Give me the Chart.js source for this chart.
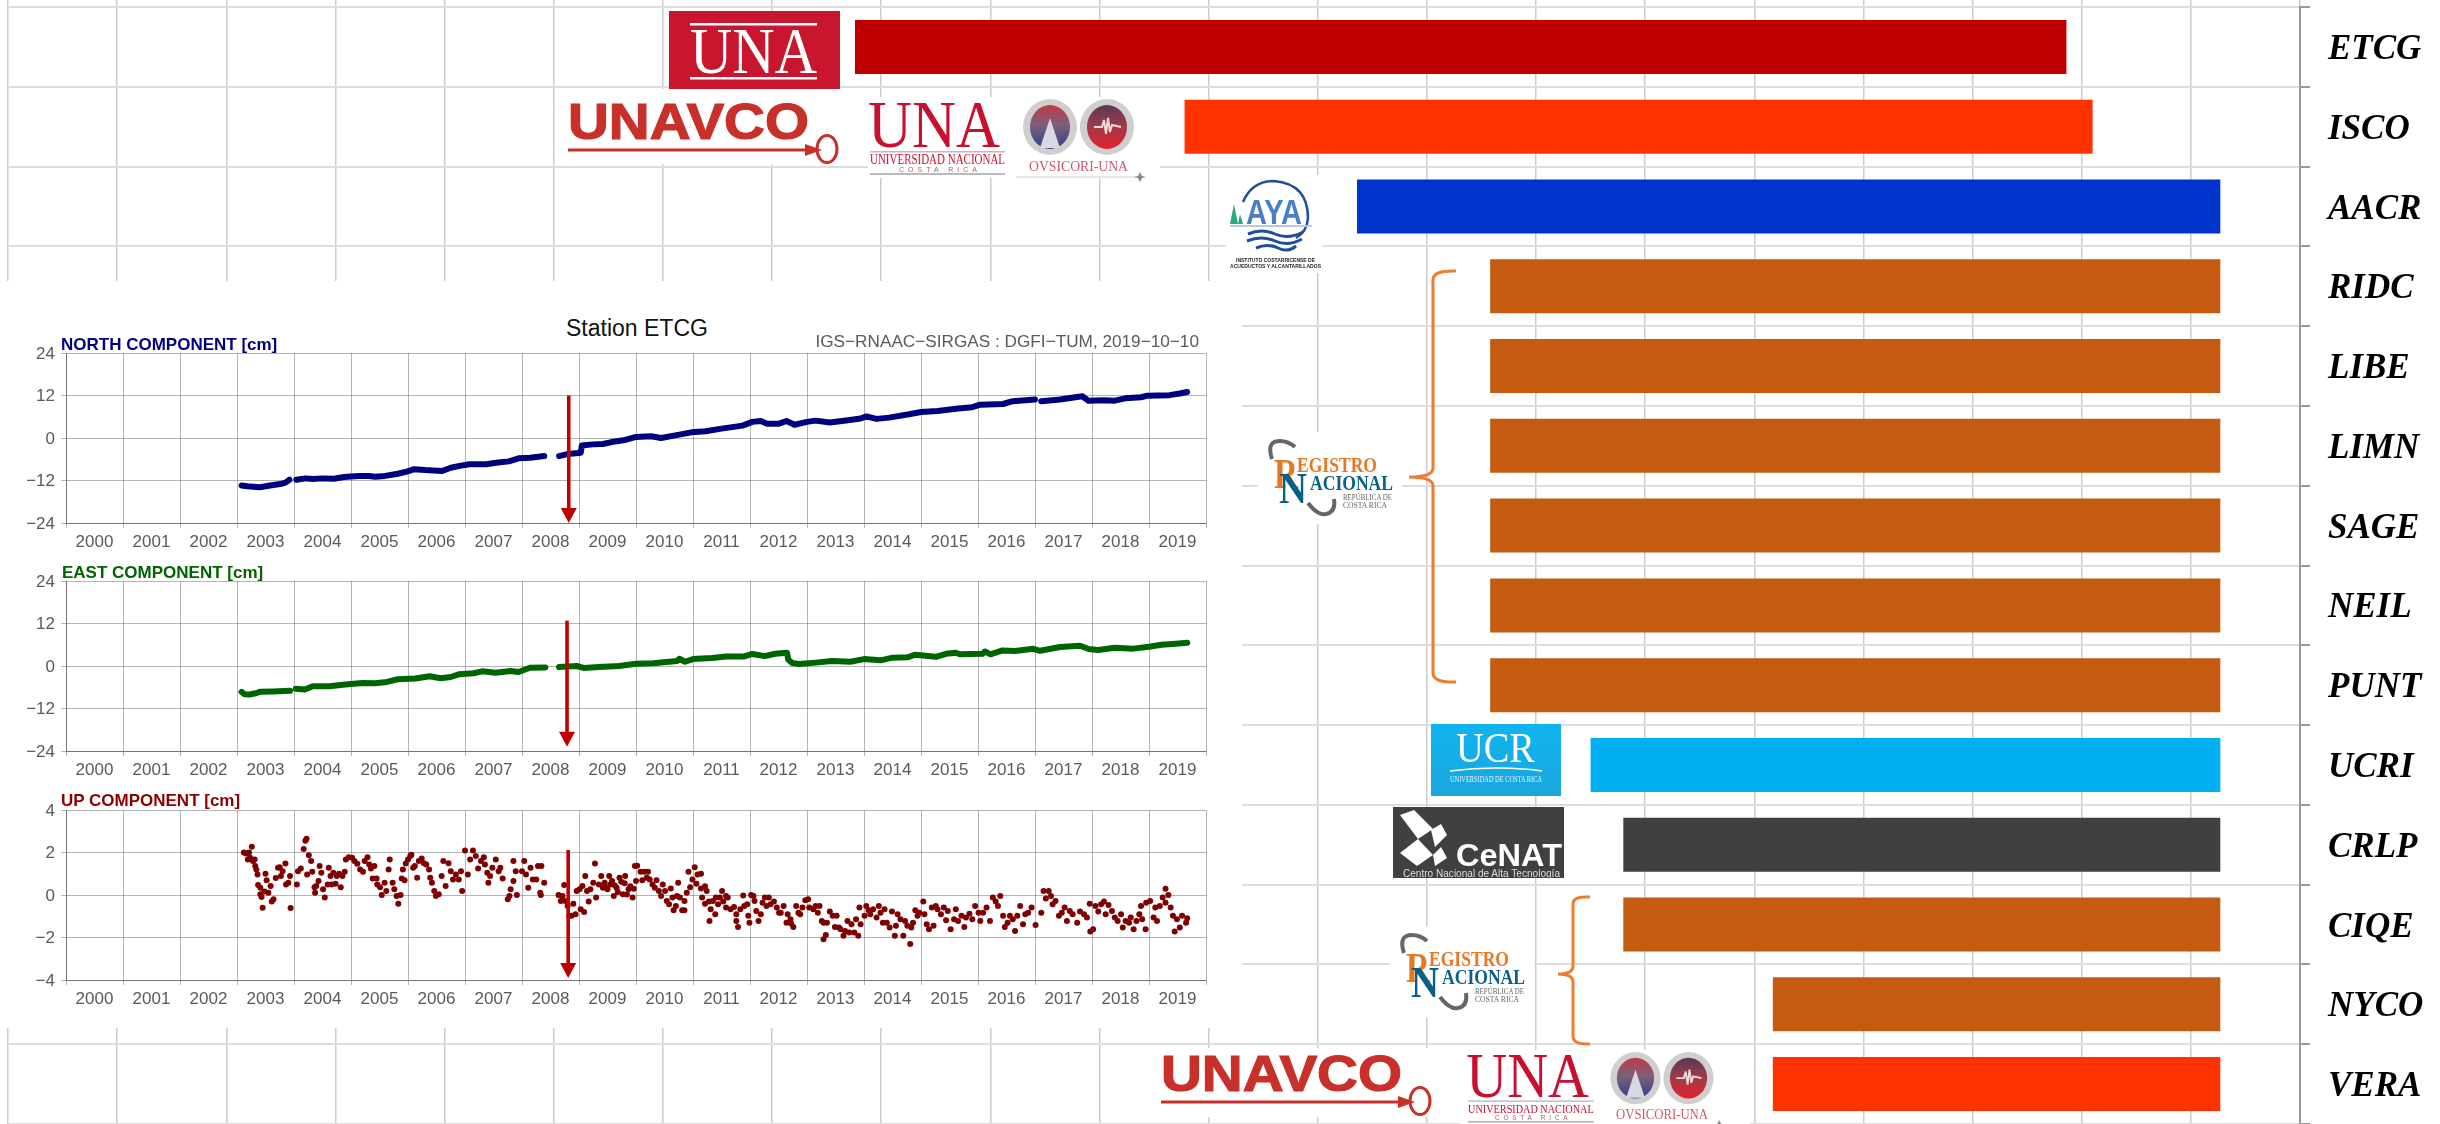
<!DOCTYPE html>
<html>
<head>
<meta charset="utf-8">
<script src="https://cdn.jsdelivr.net/npm/chart.js@4/dist/chart.umd.min.js"></script>
<style>
  html, body { margin: 0; padding: 0; background: #fff; }
  #page { position: relative; width: 2440px; height: 1124px; overflow: hidden; }
  canvas { position: absolute; left: 0; }
  #inset { position: absolute; left: 0; top: 281px; width: 1242px; height: 747px; background: #fff; }
  #logos { position: absolute; left: 0; top: 0; }
  .txt { position: absolute; font-family: "Liberation Sans", sans-serif; white-space: nowrap; line-height: 1; }
  .comp { font-size: 17px; font-weight: bold; left: 61px; }
</style>
</head>
<body>
<div id="page">
  <canvas id="mainChart" width="2440" height="1124" style="top:0"></canvas>
  <div id="inset"></div>
  <canvas id="northChart" width="1242" height="220" style="top:341px"></canvas>
  <canvas id="eastChart" width="1242" height="220" style="top:569px"></canvas>
  <canvas id="upChart" width="1242" height="220" style="top:798px"></canvas>

  <div class="txt" style="left:566px;top:317px;font-size:23px;color:#111">Station ETCG</div>
  <div class="txt" style="right:1241px;top:333px;font-size:17.2px;color:#5a5a5a">IGS−RNAAC−SIRGAS : DGFI−TUM, 2019−10−10</div>
  <div class="txt comp" style="top:336px;color:#00007f">NORTH COMPONENT [cm]</div>
  <div class="txt comp" style="top:564px;left:62px;color:#006400">EAST COMPONENT [cm]</div>
  <div class="txt comp" style="top:792px;color:#8b0000">UP COMPONENT [cm]</div>

  <svg id="logos" width="2440" height="1124" xmlns="http://www.w3.org/2000/svg">
    <defs>
      <linearGradient id="ovsA" x1="0" y1="0" x2="0" y2="1">
        <stop offset="0" stop-color="#c03a4a"/><stop offset=".45" stop-color="#7d6078"/><stop offset="1" stop-color="#2f3f8f"/>
      </linearGradient>
      <linearGradient id="ovsB" x1="0" y1="0" x2="0" y2="1">
        <stop offset="0" stop-color="#5a3a55"/><stop offset=".5" stop-color="#a03a48"/><stop offset="1" stop-color="#e5202c"/>
      </linearGradient>
      <linearGradient id="ucrBg" x1="0" y1="0" x2="0" y2="1">
        <stop offset="0" stop-color="#10b4ee"/><stop offset="1" stop-color="#1aa6dd"/>
      </linearGradient>
      <g id="unavco">
        <text x="568" y="139" font-family="Liberation Sans" font-weight="bold" font-size="50" textLength="241" lengthAdjust="spacingAndGlyphs" fill="#c8302a" stroke="#c8302a" stroke-width="1.2">UNAVCO</text>
        <rect x="568" y="148.5" width="240" height="3" fill="#c8302a"/>
        <polygon points="805,144 822,150 805,156" fill="#c8302a"/>
        <ellipse cx="827" cy="149" rx="10" ry="13.5" fill="none" stroke="#c8302a" stroke-width="3"/>
      </g>
      <g id="unaOvsicori">
        <text x="868" y="147" font-family="Liberation Serif" font-size="68" textLength="132" lengthAdjust="spacingAndGlyphs" fill="#c8102e">UNA</text>
        <rect x="870" y="151" width="135" height="1.5" fill="#bbb"/>
        <text x="870" y="164" font-family="Liberation Serif" font-size="14" textLength="135" lengthAdjust="spacingAndGlyphs" fill="#c8102e">UNIVERSIDAD NACIONAL</text>
        <text x="899" y="172" font-family="Liberation Sans" font-size="7" textLength="78" fill="#b05a66">COSTA RICA</text>
        <rect x="870" y="173" width="135" height="2" fill="#bbb"/>
        <ellipse cx="1050" cy="127" rx="27" ry="28" fill="#cfcfcf"/>
        <ellipse cx="1050" cy="127" rx="20" ry="22" fill="url(#ovsA)"/>
        <polygon points="1050,118 1040,148 1060,148" fill="#d8d8e0"/>
        <ellipse cx="1107" cy="127" rx="27" ry="28" fill="#cfcfcf"/>
        <ellipse cx="1107" cy="127" rx="20" ry="22" fill="url(#ovsB)"/>
        <path d="M1094,127 L1102,127 L1104,120 L1106,134 L1108,118 L1110,132 L1112,125 L1121,127" fill="none" stroke="#f2d8da" stroke-width="2"/>
        <text x="1029" y="171" font-family="Liberation Serif" font-size="15" textLength="99" lengthAdjust="spacingAndGlyphs" fill="#d0566a">OVSICORI-UNA</text>
        <rect x="1016" y="176.5" width="124" height="1" fill="#d0d0d0"/>
        <polygon points="1140,172 1142,176 1146,177 1142,178 1140,182 1138,178 1134,177 1138,176" fill="#888"/>
      </g>
      <g id="registro">
        <path d="M1272,459 Q1266,441 1280,441 Q1288,441 1295,447" fill="none" stroke="#666" stroke-width="4"/>
        <text x="1274" y="488" font-family="Liberation Serif" font-weight="bold" font-size="42" textLength="24" lengthAdjust="spacingAndGlyphs" fill="#e87722">R</text>
        <text x="1297" y="472" font-family="Liberation Serif" font-weight="bold" font-size="20" textLength="80" lengthAdjust="spacingAndGlyphs" fill="#e87722">EGISTRO</text>
        <text x="1279" y="503" font-family="Liberation Serif" font-weight="bold" font-size="45" textLength="28" lengthAdjust="spacingAndGlyphs" fill="#0a5f86">N</text>
        <text x="1310" y="490" font-family="Liberation Serif" font-weight="bold" font-size="21" textLength="83" lengthAdjust="spacingAndGlyphs" fill="#0a5f86">ACIONAL</text>
        <text x="1343" y="500" font-family="Liberation Serif" font-size="8" textLength="49" lengthAdjust="spacingAndGlyphs" fill="#666">REPÚBLICA DE</text>
        <text x="1343" y="508" font-family="Liberation Serif" font-size="8" textLength="44" lengthAdjust="spacingAndGlyphs" fill="#666">COSTA RICA</text>
        <path d="M1308,503 Q1318,516 1326,514 Q1336,512 1334,499" fill="none" stroke="#666" stroke-width="4"/>
      </g>
    </defs>

    <!-- white areas that the logos keep clear of the grid -->
    <rect x="560" y="89" width="288" height="75" fill="#fff"/>
    <rect x="868" y="97" width="292" height="81" fill="#fff"/>
    <rect x="1226" y="175" width="97" height="98" fill="#fff"/>
    <rect x="1258" y="432" width="144" height="92" fill="#fff"/>
    <rect x="1390" y="926" width="144" height="92" fill="#fff"/>
    <rect x="1150" y="1048" width="290" height="69" fill="#fff"/>
    <rect x="1460" y="1050" width="290" height="74" fill="#fff"/>

    <!-- UNA -->
    <rect x="669" y="11" width="171" height="78" fill="#c8162e"/>
    <rect x="690" y="23" width="127" height="2.5" fill="#fff"/>
    <rect x="690" y="77" width="127" height="2.5" fill="#fff"/>
    <text x="690" y="73" font-family="Liberation Serif" font-size="66" textLength="127" lengthAdjust="spacingAndGlyphs" fill="#fff">UNA</text>

    <use href="#unavco"/>
    <use href="#unaOvsicori"/>

    <!-- AyA -->
    <path d="M1243,202 Q1252,181 1274,181 Q1308,184 1308,218 Q1307,232 1296,238" fill="none" stroke="#1f4e9a" stroke-width="2.5"/>
    <polygon points="1230,224 1234,204 1238,224" fill="#2aa884"/>
    <polygon points="1238,224 1240,214 1243,224" fill="#2aa884"/>
    <text x="1246" y="224" font-family="Liberation Sans" font-weight="bold" font-size="35" textLength="56" lengthAdjust="spacingAndGlyphs" fill="#4a7fc4">AYA</text>
    <rect x="1230" y="225" width="82" height="2" fill="#b8c8e6"/>
    <path d="M1248,234 Q1262,228 1275,234 T1303,232 M1247,241 Q1262,235 1275,241 T1302,239 M1256,248 Q1268,243 1278,248 T1296,246" fill="none" stroke="#1f4e9a" stroke-width="3"/>
    <text x="1236" y="262" font-family="Liberation Sans" font-weight="bold" font-size="5.5" textLength="79" lengthAdjust="spacingAndGlyphs" fill="#222">INSTITUTO COSTARRICENSE DE</text>
    <text x="1230" y="268" font-family="Liberation Sans" font-weight="bold" font-size="5.5" textLength="91" lengthAdjust="spacingAndGlyphs" fill="#222">ACUEDUCTOS Y ALCANTARILLADOS</text>

    <use href="#registro"/>
    <use href="#registro" transform="translate(132,494)"/>

    <!-- braces -->
    <path d="M1456,271 Q1433,270 1433,280 L1433,468 Q1433,477 1409,477 Q1433,477 1433,486 L1433,673 Q1433,683 1456,682" fill="none" stroke="#ed7d31" stroke-width="3"/>
    <path d="M1590,897 Q1573,896 1573,904 L1573,966 Q1573,974 1558,974 Q1573,974 1573,982 L1573,1036 Q1573,1045 1590,1044" fill="none" stroke="#ed7d31" stroke-width="3"/>

    <!-- UCR -->
    <rect x="1431" y="724" width="130" height="72" fill="url(#ucrBg)"/>
    <text x="1456" y="762" font-family="Liberation Serif" font-size="43" textLength="79" lengthAdjust="spacingAndGlyphs" fill="#fff">UCR</text>
    <path d="M1450,771 Q1496,765 1542,771" fill="none" stroke="#fff" stroke-width="1.5"/>
    <text x="1450" y="782" font-family="Liberation Serif" font-size="9" textLength="92" lengthAdjust="spacingAndGlyphs" fill="#e6f6fd">UNIVERSIDAD DE COSTA RICA</text>

    <!-- CeNAT -->
    <rect x="1393" y="807" width="171" height="71" fill="#404040"/>
    <polygon points="1400,815 1414,810 1433,829 1418,839" fill="#fff"/>
    <polygon points="1431,830 1441,824 1447,835 1435,847" fill="#fff"/>
    <polygon points="1400,853 1418,839 1433,855 1417,866" fill="#fff"/>
    <polygon points="1433,855 1441,847 1447,858 1435,866" fill="#fff"/>
    <text x="1456" y="866" font-family="Liberation Sans" font-weight="bold" font-size="32" textLength="106" lengthAdjust="spacingAndGlyphs" fill="#fff">CeNAT</text>
    <text x="1403" y="877" font-family="Liberation Sans" font-size="10.5" textLength="157" lengthAdjust="spacingAndGlyphs" fill="#ddd">Centro Nacional de Alta Tecnología</text>

    <use href="#unavco" transform="translate(593,952)"/>
    <use href="#unaOvsicori" transform="translate(659,960) scale(.93)"/>
  </svg>
</div>

<script>
// stations, top to bottom
const stations = ['ETCG', 'ISCO', 'AACR', 'RIDC', 'LIBE', 'LIMN', 'SAGE', 'NEIL', 'PUNT', 'UCRI', 'CRLP', 'CIQE', 'NYCO', 'VERA']
const stationStart = [2007.76, 2010.78, 2012.36, 2013.58, 2013.58, 2013.58, 2013.58, 2013.58, 2013.58, 2014.50, 2014.80, 2014.80, 2016.17, 2016.17]
const stationEnd = [2018.86, 2019.10, 2020.27, 2020.27, 2020.27, 2020.27, 2020.27, 2020.27, 2020.27, 2020.27, 2020.27, 2020.27, 2020.27, 2020.27]

const yearLabels = ['2000', '2001', '2002', '2003', '2004', '2005', '2006', '2007', '2008', '2009', '2010', '2011', '2012', '2013', '2014', '2015', '2016', '2017', '2018', '2019']
const horizontalTicks = [24, 12, 0, -12, -24]
const upTicks = [4, 2, 0, -2, -4]

// [year, cm], null marks a break in the record
const northPoints = [
  [2003.08, -13.4], [2003.18, -13.6], [2003.40, -13.9], [2003.58, -13.4], [2003.76, -13.0], [2003.85, -12.6], [2003.92, -11.8], [2003.97, null],
  [2004.04, -11.8], [2004.20, -11.4], [2004.33, -11.6], [2004.50, -11.4], [2004.70, -11.5], [2004.88, -11.0], [2005.00, -10.85], [2005.14, -10.7],
  [2005.32, -10.75], [2005.42, -10.95], [2005.60, -10.7], [2005.82, -10.1], [2005.98, -9.5], [2006.11, -8.8], [2006.30, -9.05], [2006.60, -9.3],
  [2006.75, -8.4], [2006.93, -7.8], [2007.08, -7.4], [2007.37, -7.4], [2007.58, -6.9], [2007.77, -6.6], [2007.94, -5.75], [2008.14, -5.55],
  [2008.39, -5.1], [2008.50, null], [2008.65, -5.1], [2008.81, -4.5], [2009.03, -4.15], [2009.05, -2.1], [2009.24, -1.8], [2009.42, -1.7],
  [2009.57, -1.15], [2009.78, -0.65], [2010.00, 0.3], [2010.26, 0.5], [2010.44, 0.0], [2010.69, 0.75], [2010.97, 1.6], [2011.22, 1.9],
  [2011.50, 2.65], [2011.87, 3.5], [2012.04, 4.55], [2012.19, 4.8], [2012.30, 4.05], [2012.51, 4.05], [2012.64, 4.8], [2012.78, 3.75],
  [2013.00, 4.55], [2013.15, 4.9], [2013.40, 4.35], [2013.72, 5.0], [2013.94, 5.5], [2014.04, 6.1], [2014.22, 5.4], [2014.44, 5.75],
  [2014.79, 6.7], [2015.00, 7.35], [2015.29, 7.65], [2015.65, 8.3], [2015.90, 8.7], [2016.04, 9.4], [2016.44, 9.6], [2016.61, 10.4],
  [2017.00, 10.9], [2017.05, null], [2017.11, 10.4], [2017.44, 10.85], [2017.83, 11.8], [2017.94, 10.5], [2018.22, 10.65], [2018.40, 10.55],
  [2018.58, 11.2], [2018.86, 11.5], [2018.97, 11.95], [2019.36, 12.1], [2019.54, 12.55], [2019.67, 13.0]
]

const eastPoints = [
  [2003.08, -7.3], [2003.13, -8.0], [2003.22, -8.05], [2003.33, -7.7], [2003.40, -7.3], [2003.62, -7.2], [2003.93, -7.0], [2003.98, null],
  [2004.03, -6.4], [2004.19, -6.65], [2004.33, -5.7], [2004.62, -5.7], [2004.90, -5.25], [2005.20, -4.8], [2005.42, -4.9], [2005.63, -4.5],
  [2005.82, -3.75], [2006.13, -3.55], [2006.38, -2.9], [2006.57, -3.45], [2006.75, -3.1], [2006.89, -2.35], [2007.15, -2.05], [2007.30, -1.5],
  [2007.54, -1.9], [2007.80, -1.4], [2007.94, -1.7], [2008.14, -0.5], [2008.41, -0.4], [2008.52, null], [2008.65, -0.3], [2008.96, 0.0],
  [2009.08, -0.55], [2009.35, -0.3], [2009.70, 0.0], [2009.80, 0.2], [2010.00, 0.65], [2010.30, 0.75], [2010.72, 1.4], [2010.76, 2.05],
  [2010.86, 1.2], [2011.00, 1.95], [2011.33, 2.25], [2011.58, 2.7], [2011.90, 2.7], [2012.04, 3.4], [2012.26, 2.8], [2012.44, 3.45],
  [2012.65, 3.75], [2012.67, 1.85], [2012.74, 0.85], [2012.86, 0.55], [2013.15, 0.95], [2013.44, 1.4], [2013.76, 1.2], [2014.00, 1.95],
  [2014.29, 1.6], [2014.50, 2.35], [2014.76, 2.45], [2014.90, 3.2], [2015.26, 2.6], [2015.44, 3.45], [2015.61, 3.75], [2015.69, 3.3],
  [2016.08, 3.45], [2016.12, 4.1], [2016.22, 3.3], [2016.43, 4.4], [2016.65, 4.25], [2016.97, 4.85], [2017.09, 4.3], [2017.44, 5.35],
  [2017.79, 5.7], [2017.94, 4.8], [2018.11, 4.5], [2018.40, 5.15], [2018.72, 4.9], [2019.00, 5.45], [2019.22, 6.0], [2019.47, 6.3], [2019.67, 6.55]
]

const upPoints = [
  [2003.12, 2.00], [2003.16, 1.95], [2003.19, 1.67], [2003.21, 2.00], [2003.23, 1.75], [2003.26, 2.27], [2003.28, 1.60], [2003.31, 1.67], [2003.32, 1.36], [2003.34, 1.20],
  [2003.36, 0.97], [2003.37, 0.47], [2003.41, 0.34], [2003.41, 0.03], [2003.43, -0.09], [2003.45, -0.60], [2003.48, 0.16], [2003.50, 1.00], [2003.52, 0.69], [2003.55, 0.11],
  [2003.59, 0.42], [2003.61, -0.31], [2003.64, -0.20], [2003.68, 0.80], [2003.72, 1.28], [2003.75, 1.31], [2003.77, 0.89], [2003.80, 1.12], [2003.85, 1.48], [2003.86, 0.50],
  [2003.90, 0.58], [2003.93, 0.89], [2003.94, -0.61],
  [2004.05, 0.50], [2004.07, 1.12], [2004.12, 1.25], [2004.17, 2.17], [2004.20, 2.55], [2004.22, 2.65], [2004.23, 0.97], [2004.26, 1.87], [2004.30, 1.60], [2004.32, 1.10],
  [2004.36, 0.37], [2004.37, 0.11], [2004.39, 0.42], [2004.43, 0.66], [2004.45, 1.36], [2004.48, 1.05], [2004.51, 0.27], [2004.54, -0.12], [2004.59, 0.50], [2004.61, 1.28],
  [2004.64, 0.89], [2004.66, 0.50], [2004.69, 1.05], [2004.73, 0.53], [2004.75, 0.89], [2004.79, 1.00], [2004.82, 0.37], [2004.85, 0.89], [2004.89, 1.09], [2004.91, 1.67], [2004.96, 1.78],
  [2005.02, 1.75], [2005.06, 1.60], [2005.11, 1.47], [2005.16, 1.20], [2005.21, 1.09], [2005.24, 1.60], [2005.29, 1.78], [2005.32, 1.44], [2005.35, 1.25], [2005.38, 0.78],
  [2005.41, 1.36], [2005.45, 0.78], [2005.46, 0.50], [2005.51, 0.37], [2005.54, 0.00], [2005.59, 0.58], [2005.62, 0.19], [2005.66, 1.20], [2005.68, 1.67], [2005.73, 0.58],
  [2005.76, 0.27], [2005.80, -0.05], [2005.83, -0.41], [2005.87, 0.00], [2005.89, 0.78], [2005.91, 1.20], [2005.94, 0.69], [2005.96, 1.48],
  [2006.00, 1.67], [2006.04, 1.83], [2006.06, 1.90], [2006.09, 1.28], [2006.12, 1.36], [2006.16, 0.81], [2006.19, 1.60], [2006.24, 1.72], [2006.28, 1.50], [2006.32, 1.44],
  [2006.37, 1.20], [2006.39, 0.81], [2006.42, 0.58], [2006.46, 0.19], [2006.49, -0.05], [2006.54, 0.03], [2006.59, 0.89], [2006.62, 1.60], [2006.66, 0.42], [2006.71, 1.50],
  [2006.75, 1.12], [2006.79, 0.73], [2006.84, 0.97], [2006.89, 0.73], [2006.93, 1.12], [2006.95, 0.19],
  [2007.00, 2.09], [2007.05, 0.97], [2007.09, 1.67], [2007.14, 2.09], [2007.19, 1.83], [2007.23, 1.25], [2007.28, 1.60], [2007.33, 1.78], [2007.35, 1.44], [2007.39, 1.05],
  [2007.41, 0.58], [2007.44, 0.89], [2007.48, 1.28], [2007.54, 1.67], [2007.59, 1.12], [2007.62, 1.28], [2007.66, 0.78], [2007.75, -0.20], [2007.78, -0.05], [2007.80, 0.27],
  [2007.85, 1.60], [2007.85, 0.66], [2007.89, 1.12], [2007.91, 0.00],
  [2008.00, 1.12], [2008.04, 1.60], [2008.07, 0.97], [2008.11, 0.34], [2008.15, 1.28], [2008.19, 0.73], [2008.25, 0.73], [2008.28, 1.36], [2008.32, 0.11], [2008.33, 0.00],
  [2008.34, 1.36], [2008.39, 0.58], [2008.64, 0.00], [2008.68, -0.28], [2008.71, -0.05], [2008.74, 0.47], [2008.76, -0.28], [2008.80, -0.52], [2008.83, -0.98], [2008.87, -0.98],
  [2008.90, -0.41], [2008.94, -0.90], [2008.96, 0.19],
  [2009.01, 0.27], [2009.03, -0.67], [2009.06, 0.42], [2009.09, -0.80], [2009.11, 0.89], [2009.14, 0.19], [2009.17, -0.31], [2009.20, 0.27], [2009.25, 0.58], [2009.28, 1.48],
  [2009.30, -0.12], [2009.35, 0.50], [2009.39, 0.89], [2009.42, 0.34], [2009.45, 0.58], [2009.46, 0.37], [2009.50, 0.27], [2009.53, 0.89], [2009.55, 0.50], [2009.58, 0.66],
  [2009.61, -0.05], [2009.63, 0.45], [2009.66, 0.34], [2009.68, 0.14], [2009.71, 0.81], [2009.74, 0.62], [2009.77, 0.03], [2009.80, 0.55], [2009.81, 0.89], [2009.84, 0.02],
  [2009.87, 0.27], [2009.90, 0.41], [2009.94, -0.12], [2009.96, 0.30], [2009.98, 1.36], [2010.00, 0.66],
  [2010.02, 1.38], [2010.08, 1.09], [2010.11, 0.70], [2010.15, 1.09], [2010.19, 0.81], [2010.21, 1.09], [2010.24, 0.73], [2010.29, 0.50], [2010.33, 0.34], [2010.36, 0.70],
  [2010.40, 0.19], [2010.44, -0.05], [2010.47, 0.50], [2010.51, 0.19], [2010.54, -0.28], [2010.58, -0.44], [2010.61, 0.31], [2010.64, -0.12], [2010.66, -0.72], [2010.70, -0.52],
  [2010.72, -0.05], [2010.74, 0.58], [2010.77, -0.12], [2010.81, -0.72], [2010.85, -0.28], [2010.85, -0.72], [2010.89, 0.11], [2010.92, 1.09], [2010.95, 0.37], [2010.99, 0.73],
  [2011.03, 1.31], [2011.06, 0.53], [2011.08, 0.97], [2011.14, 1.00], [2011.14, 0.31], [2011.16, -0.12], [2011.21, 0.41], [2011.21, -0.41], [2011.24, 0.19], [2011.28, -0.31],
  [2011.29, -1.22], [2011.31, -0.67], [2011.35, -0.28], [2011.39, -0.91], [2011.40, -0.12], [2011.44, -0.44], [2011.47, -0.12], [2011.51, 0.19], [2011.53, -0.31], [2011.58, -0.05],
  [2011.58, -0.59], [2011.61, -0.12], [2011.66, -0.67], [2011.72, -0.56], [2011.76, -0.91], [2011.76, -1.22], [2011.79, -1.50], [2011.83, -0.67], [2011.88, -0.02], [2011.90, -0.52],
  [2011.95, -0.44], [2011.97, -0.98], [2011.99, -1.30],
  [2012.02, 0.00], [2012.06, -0.05], [2012.08, -0.28], [2012.11, -0.75], [2012.15, -1.22], [2012.19, -0.91], [2012.22, -0.36], [2012.26, -0.12], [2012.29, -0.52], [2012.33, -0.12],
  [2012.36, -0.44], [2012.42, -0.31], [2012.47, -0.59], [2012.51, -0.83], [2012.54, -0.83], [2012.59, -0.52], [2012.64, -1.30], [2012.66, -0.91], [2012.71, -1.14], [2012.72, -1.34],
  [2012.76, -1.50], [2012.81, -0.52], [2012.85, -0.83], [2012.88, -0.91], [2012.92, -0.59], [2012.97, -0.25],
  [2013.02, -0.20], [2013.04, -0.59], [2013.11, -0.67], [2013.15, -0.52], [2013.19, -0.83], [2013.22, -0.52], [2013.26, -1.22], [2013.29, -2.08], [2013.29, -1.30], [2013.33, -1.88],
  [2013.35, -1.30], [2013.40, -0.78], [2013.45, -0.98], [2013.49, -1.50], [2013.52, -0.98], [2013.56, -1.53], [2013.59, -1.61], [2013.64, -1.92], [2013.67, -1.69], [2013.71, -1.22],
  [2013.74, -1.77], [2013.78, -1.38], [2013.83, -1.77], [2013.86, -1.14], [2013.90, -1.92], [2013.92, -0.59], [2013.94, -1.38],
  [2014.01, -0.98], [2014.04, -0.52], [2014.08, -0.72], [2014.11, -0.91], [2014.16, -0.67], [2014.22, -1.06], [2014.26, -0.52], [2014.29, -0.83], [2014.33, -1.30], [2014.36, -0.67],
  [2014.40, -1.30], [2014.45, -1.53], [2014.49, -0.78], [2014.54, -1.92], [2014.56, -1.45], [2014.59, -0.91], [2014.64, -1.14], [2014.69, -1.92], [2014.72, -1.22], [2014.76, -1.45],
  [2014.81, -2.31], [2014.83, -1.53], [2014.86, -1.30], [2014.90, -0.72], [2014.94, -0.98], [2014.97, -0.83],
  [2015.04, -0.31], [2015.06, -0.91], [2015.10, -1.38], [2015.14, -1.61], [2015.19, -0.59], [2015.22, -1.45], [2015.26, -0.52], [2015.29, -0.67], [2015.35, -0.91], [2015.40, -0.59],
  [2015.44, -1.19], [2015.47, -0.75], [2015.52, -1.61], [2015.58, -1.14], [2015.61, -0.67], [2015.65, -1.22], [2015.71, -0.98], [2015.76, -1.50], [2015.79, -1.06], [2015.85, -0.88],
  [2015.90, -1.14], [2015.95, -0.52],
  [2016.01, -0.83], [2016.04, -1.22], [2016.09, -0.83], [2016.15, -0.59], [2016.21, -1.22], [2016.26, -0.12], [2016.31, -0.31], [2016.35, -0.52], [2016.39, -0.05], [2016.44, -0.98],
  [2016.47, -1.50], [2016.52, -1.30], [2016.56, -0.98], [2016.61, -1.14], [2016.65, -1.69], [2016.69, -0.98], [2016.74, -0.52], [2016.79, -1.38], [2016.83, -0.91], [2016.88, -0.83], [2016.94, -0.59],
  [2017.01, -1.41], [2017.11, -0.83], [2017.15, 0.19], [2017.19, -0.16], [2017.24, 0.19], [2017.28, -0.05], [2017.31, -0.44], [2017.36, -0.28], [2017.42, -0.98], [2017.47, -0.83],
  [2017.52, -0.59], [2017.56, -1.22], [2017.61, -0.75], [2017.66, -0.91], [2017.74, -1.30], [2017.79, -0.78], [2017.86, -0.91], [2017.91, -1.06], [2017.96, -0.41], [2017.97, -1.72],
  [2018.02, -1.61], [2018.06, -0.52], [2018.11, -0.78], [2018.16, -0.44], [2018.21, -0.31], [2018.24, -0.91], [2018.29, -0.47], [2018.35, -0.75], [2018.40, -1.06], [2018.45, -1.22],
  [2018.51, -0.91], [2018.54, -1.53], [2018.59, -1.22], [2018.65, -1.30], [2018.68, -1.06], [2018.73, -1.61], [2018.78, -1.22], [2018.83, -0.91], [2018.86, -0.52], [2018.88, -1.14], [2018.94, -1.61],
  [2018.95, -0.36], [2019.02, -0.28], [2019.08, -1.06], [2019.11, -0.59], [2019.14, -1.22], [2019.19, -0.52], [2019.24, -0.12], [2019.29, 0.30], [2019.29, -0.36], [2019.34, 0.00],
  [2019.38, -0.59], [2019.42, -0.98], [2019.45, -1.72], [2019.49, -1.14], [2019.54, -1.53], [2019.58, -0.98], [2019.65, -1.30], [2019.67, -1.09]
]

// years where the red arrow sits in each panel, and the cm range it covers
const arrowYears = [2008.82, 2008.79, 2008.81]
const arrowTops = [12, 12.8, 2.12]
const arrowTips = [-24, -22.8, -3.9]

const barColors = ['#c00000', '#ff3300', '#0033cc', '#c55a11', '#c55a11', '#c55a11', '#c55a11', '#c55a11', '#c55a11', '#00b0f0', '#404040', '#c55a11', '#c55a11', '#ff3300']

// the tick labels must not push the plot area in
function noLabelPadding(s) {
  s.paddingTop = 0
  s.paddingBottom = 0
  s.paddingLeft = 0
  s.paddingRight = 0
}

new Chart(document.getElementById('mainChart'), {
  type: 'bar',
  data: {
    labels: stations,
    datasets: [{
      data: stations.map((s, i) => [stationStart[i], stationEnd[i]]),
      backgroundColor: barColors,
      barPercentage: 0.677,
      categoryPercentage: 1
    }]
  },
  options: {
    indexAxis: 'y',
    responsive: false,
    animation: false,
    layout: { padding: { left: 8 } },
    plugins: { legend: { display: false }, tooltip: { enabled: false } },
    scales: {
      x: {
        type: 'linear',
        position: 'top',
        min: 2000,
        max: 2021,
        ticks: { stepSize: 1, display: false },
        grid: { color: '#cccccc', lineWidth: 1.5, tickLength: 7 },
        border: { display: false },
        afterFit: s => { s.height = 7; noLabelPadding(s) }
      },
      y: {
        position: 'right',
        grid: { offset: true, color: '#dddddd', lineWidth: 2, tickLength: 10, tickColor: '#999999' },
        border: { color: '#999999', width: 2 },
        ticks: {
          padding: 18,
          labelOffset: 3,
          color: '#000000',
          font: { family: '"Liberation Serif"', size: 35, style: 'italic', weight: 'bold' }
        },
        afterFit: s => { s.width = 140; noLabelPadding(s) }
      }
    }
  }
})

// red arrow marking the same date on each panel
const arrowPlugin = {
  id: 'arrow',
  afterDatasetsDraw(chart, args, opts) {
    const ctx = chart.ctx
    const x = chart.scales.x.getPixelForValue(opts.year)
    const top = chart.scales.y.getPixelForValue(opts.top)
    const tip = chart.scales.y.getPixelForValue(opts.tip)
    ctx.save()
    ctx.fillStyle = '#c00000'
    ctx.fillRect(x - 1.8, top, 3.6, tip - top - 14)
    ctx.beginPath()
    ctx.moveTo(x - 8, tip - 15)
    ctx.lineTo(x + 8, tip - 15)
    ctx.lineTo(x, tip)
    ctx.closePath()
    ctx.fill()
    ctx.restore()
  }
}

function makePanel(id, points, color, yTicks, panel, asLine) {
  const dataset = asLine
    ? { data: points, borderColor: color, borderWidth: 6, borderCapStyle: 'round', borderJoinStyle: 'round', pointRadius: 0, tension: 0, spanGaps: false }
    : { data: points, showLine: false, backgroundColor: color, borderColor: color, pointRadius: 3, pointBorderWidth: 0 }

  return new Chart(document.getElementById(id), {
    type: 'line',
    data: { datasets: [dataset] },
    plugins: [arrowPlugin],
    options: {
      responsive: false,
      animation: false,
      layout: { padding: { top: 12, right: 36 } },
      plugins: {
        legend: { display: false },
        tooltip: { enabled: false },
        arrow: { year: arrowYears[panel], top: arrowTops[panel], tip: arrowTips[panel] }
      },
      scales: {
        x: {
          type: 'linear',
          min: 2000,
          max: 2020,
          ticks: {
            stepSize: 1,
            autoSkip: false,
            maxRotation: 0,
            labelOffset: 28.5,
            padding: 4,
            color: '#5a5a5a',
            font: { family: '"Liberation Sans"', size: 17 },
            callback: (v, i) => yearLabels[i] || ''
          },
          grid: { color: 'rgba(90,90,90,0.45)', lineWidth: 1, tickLength: 5 },
          border: { color: 'rgba(90,90,90,0.7)' },
          afterFit: s => { s.height = 38; noLabelPadding(s) }
        },
        y: {
          min: yTicks[yTicks.length - 1],
          max: yTicks[0],
          afterBuildTicks: s => { s.ticks = yTicks.map(v => ({ value: v })) },
          ticks: {
            padding: 6,
            labelOffset: 1,
            color: '#5a5a5a',
            font: { family: '"Liberation Sans"', size: 17 },
            callback: v => String(v).replace('-', '−')
          },
          grid: { color: 'rgba(90,90,90,0.45)', lineWidth: 1, tickLength: 5 },
          border: { color: 'rgba(90,90,90,0.7)' },
          afterFit: s => { s.width = 66; noLabelPadding(s) }
        }
      }
    }
  })
}

makePanel('northChart', northPoints, '#00007f', horizontalTicks, 0, true)
makePanel('eastChart', eastPoints, '#006400', horizontalTicks, 1, true)
makePanel('upChart', upPoints, '#7f0000', upTicks, 2, false)
</script>
</body>
</html>
